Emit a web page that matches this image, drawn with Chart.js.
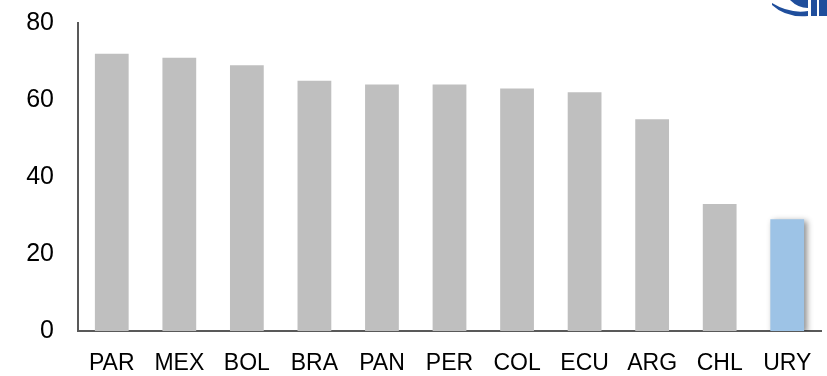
<!DOCTYPE html>
<html>
<head>
<meta charset="utf-8">
<script src="https://cdn.jsdelivr.net/npm/chart.js"></script>
<style>
  html, body { margin: 0; padding: 0; background: #fff; }
  #wrap { width: 827px; height: 376px; position: relative; }
</style>
</head>
<body>
<div id="wrap"><canvas id="c"></canvas></div>
<script>
// data
const countries = ['PAR', 'MEX', 'BOL', 'BRA', 'PAN', 'PER', 'COL', 'ECU', 'ARG', 'CHL', 'URY'];
const values = [72, 71, 69, 65, 64, 64, 63, 62, 55, 33, 29];
const highlight = 'URY';
const yTicks = [0, 20, 40, 60, 80];

// gray bars for everyone but the highlighted one, blue bar for it
const grayData = countries.map((c, i) => c === highlight ? null : values[i]);
const blueData = countries.map((c, i) => c === highlight ? values[i] : null);

// shadow only under the highlighted bar
const barShadow = {
  id: 'barShadow',
  beforeDatasetDraw(chart, args) {
    if (args.index !== 1) return;
    const ctx = chart.ctx;
    ctx.save();
    ctx.shadowColor = 'rgba(0,0,0,0.45)';
    ctx.shadowBlur = 6;
    ctx.shadowOffsetX = 3;
    ctx.shadowOffsetY = 2;
  },
  afterDatasetDraw(chart, args) {
    if (args.index !== 1) return;
    chart.ctx.restore();
  }
};

// bit of the logo cut off in the top right corner
const cornerLogo = {
  id: 'cornerLogo',
  afterDraw(chart) {
    const ctx = chart.ctx;
    ctx.save();
    ctx.fillStyle = '#1f4e9c';
    ctx.beginPath();
    ctx.moveTo(772, 3);
    ctx.quadraticCurveTo(790, 14, 808, 11);
    ctx.lineTo(808, 16);
    ctx.quadraticCurveTo(786, 18, 772, 5);
    ctx.closePath();
    ctx.fill();
    ctx.fillRect(811, 0, 6, 16);
    ctx.fillRect(819, 0, 8, 16);
    ctx.beginPath();
    ctx.moveTo(790, 0);
    ctx.lineTo(808, 0);
    ctx.lineTo(808, 8);
    ctx.quadraticCurveTo(798, 8, 790, 0);
    ctx.fill();
    ctx.restore();
  }
};

Chart.defaults.font.family = '"Liberation Sans", Arial, sans-serif';
Chart.defaults.color = '#000';

new Chart(document.getElementById('c'), {
  type: 'bar',
  data: {
    labels: countries,
    datasets: [
      { data: grayData, backgroundColor: '#bfbfbf', barPercentage: 0.5, categoryPercentage: 1 },
      { data: blueData, backgroundColor: '#9dc3e6', barPercentage: 0.5, categoryPercentage: 1 }
    ]
  },
  options: {
    responsive: true,
    maintainAspectRatio: false,
    animation: false,
    layout: { padding: { top: 23, right: 6, left: 0, bottom: 0 } },
    plugins: { legend: { display: false }, tooltip: { enabled: false } },
    scales: {
      x: {
        stacked: true,
        grid: { display: false },
        border: { display: true, color: '#595959', width: 2 },
        ticks: { font: { size: 23 }, padding: 11, maxRotation: 0, autoSkip: false },
        afterFit(scale) { scale.height = 45; }
      },
      y: {
        stacked: true,
        min: 0,
        max: 80,
        afterBuildTicks(scale) { scale.ticks = yTicks.map(v => ({ value: v })); },
        grid: { display: false },
        border: { display: true, color: '#595959', width: 2 },
        ticks: { font: { size: 25 }, padding: 16 },
        afterFit(scale) {
          scale.width = 78;
          scale.paddingTop = 0;
          scale.paddingBottom = 0;
        }
      }
    }
  },
  plugins: [barShadow, cornerLogo]
});
</script>
</body>
</html>
